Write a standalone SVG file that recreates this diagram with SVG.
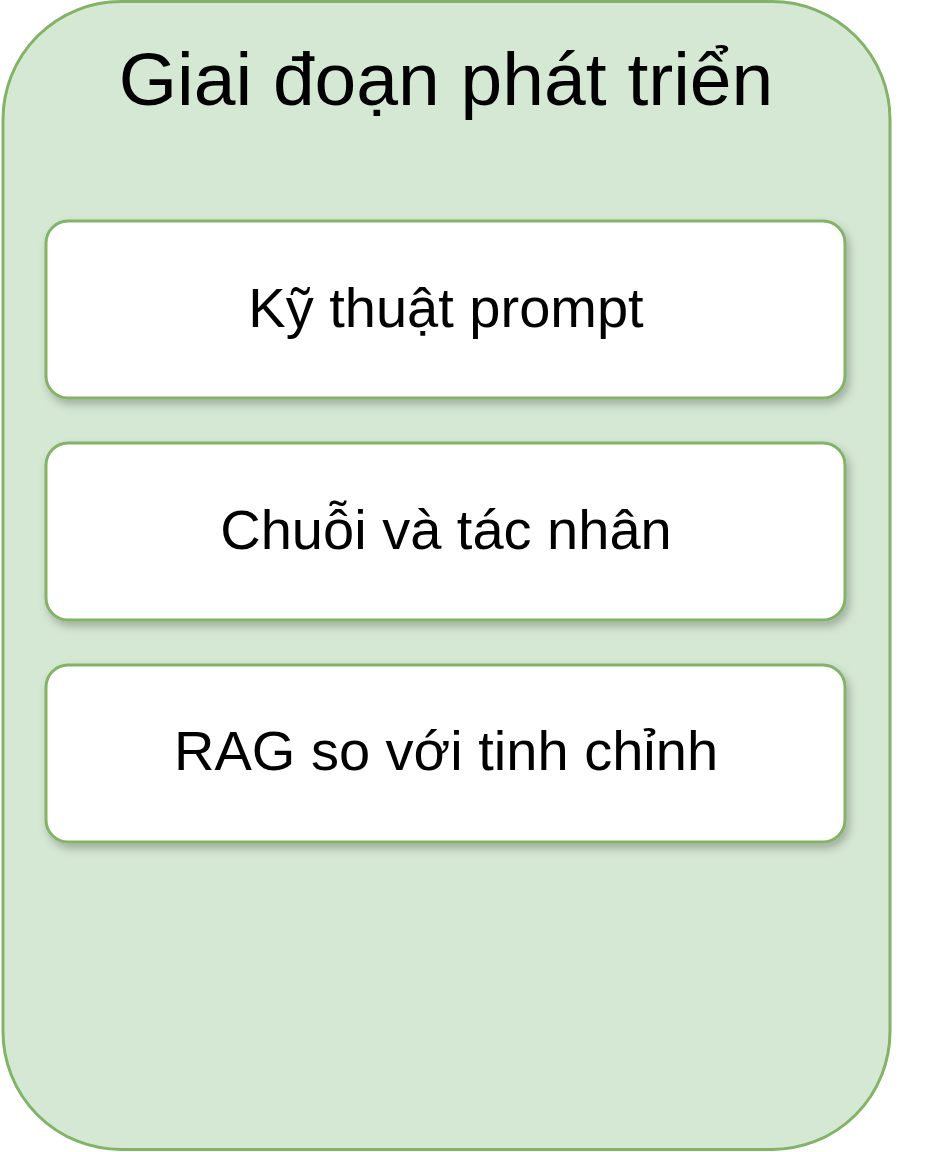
<svg xmlns="http://www.w3.org/2000/svg" width="928" height="1152" viewBox="0 0 928 1152">
  <defs>
    <filter id="shadow" x="-10%" y="-20%" width="120%" height="150%">
      <feDropShadow dx="3" dy="5" stdDeviation="4" flood-color="#000" flood-opacity="0.25"/>
    </filter>
    <style>
      .container { fill: #d5e8d4; stroke: #82b366; stroke-width: 3; }
      .item { fill: #ffffff; stroke: #82b366; stroke-width: 3; filter: url(#shadow); }
      .title { font-family: "Liberation Sans", Arial, sans-serif; font-size: 75px; fill: #000; text-anchor: middle; }
      .label { font-family: "Liberation Sans", Arial, sans-serif; font-size: 56px; fill: #000; text-anchor: middle; }
    </style>
  </defs>
  <rect width="928" height="1152" fill="#ffffff"/>
  <g id="container">
    <rect class="container" x="3" y="1.5" width="887" height="1148" rx="118" ry="118"/>
    <text class="title" x="446" y="105">Giai đoạn phát triển</text>
  </g>
  <g id="node-prompt">
    <rect class="item" x="46" y="221" width="799" height="177" rx="22" ry="22"/>
    <text class="label" x="446" y="327">Kỹ thuật prompt</text>
  </g>
  <g id="node-chains">
    <rect class="item" x="46" y="443" width="799" height="177" rx="22" ry="22"/>
    <text class="label" x="446" y="549">Chuỗi và tác nhân</text>
  </g>
  <g id="node-rag">
    <rect class="item" x="46" y="665" width="799" height="177" rx="22" ry="22"/>
    <text class="label" x="446" y="770">RAG so với tinh chỉnh</text>
  </g>
  <g id="connectors"></g>
</svg>
